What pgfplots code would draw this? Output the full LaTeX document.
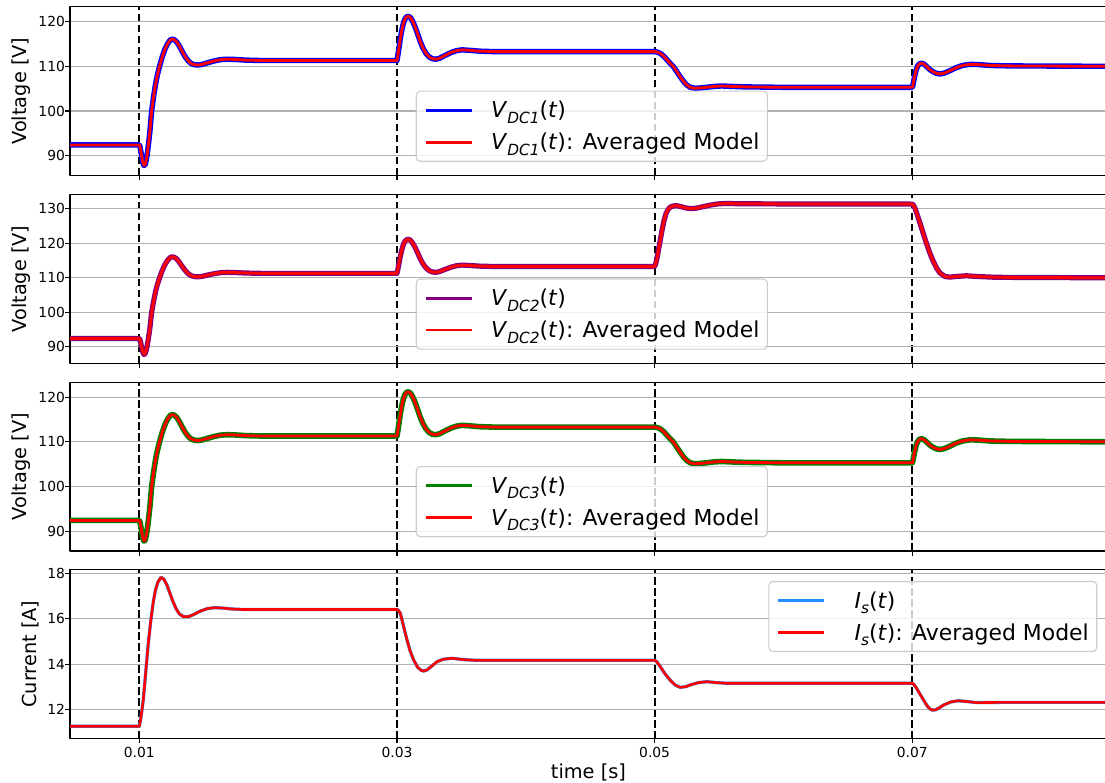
\documentclass[border=0pt]{standalone}
\usepackage{fontspec}
\setmainfont{DejaVu Sans}
\usepackage{pgfplots}
\usepackage{pgfplotstable}
\pgfplotsset{compat=1.18}

\definecolor{mblue}{RGB}{0,0,255}
\definecolor{mred}{RGB}{255,0,0}
\definecolor{mpurple}{RGB}{128,0,128}
\definecolor{mgreen}{RGB}{0,128,0}
\definecolor{mlblue}{RGB}{30,144,255}
\definecolor{mgrid}{RGB}{176,176,176}
\definecolor{mframe}{RGB}{204,204,204}

\newcommand{\sub}[1]{\raisebox{-5.5bp}{\fontsize{15.4}{16}\selectfont\itshape #1}}

% V_DC1 (also V_DC3): simulation and averaged model coincide
\pgfplotstableread{
t v
0.0046 92.4
0.0100 92.4
0.01005 92.1
0.01012 91.0
0.01020 89.6
0.01028 88.4
0.01036 87.8
0.01044 87.9
0.01052 88.7
0.01060 90.0
0.01070 92.2
0.01082 95.3
0.01096 100.0
0.01110 103.0
0.01125 105.8
0.01140 108.0
0.01160 110.3
0.01180 112.3
0.01200 113.9
0.01220 115.1
0.01240 115.9
0.01255 116.1
0.01270 116.0
0.01290 115.5
0.01310 114.6
0.01330 113.5
0.01355 112.2
0.01380 111.2
0.01405 110.6
0.01430 110.35
0.01458 110.3
0.01490 110.45
0.01530 110.8
0.01580 111.2
0.01630 111.5
0.01680 111.6
0.01740 111.55
0.01820 111.4
0.01950 111.3
0.03000 111.3
0.03006 112.3
0.03015 114.0
0.03025 116.0
0.03035 117.7
0.03047 119.3
0.03060 120.5
0.03075 121.1
0.03090 121.2
0.03105 120.9
0.03120 120.2
0.03140 118.9
0.03160 117.3
0.03180 115.6
0.03200 114.2
0.03225 112.9
0.03250 112.1
0.03275 111.7
0.03300 111.6
0.03330 111.8
0.03370 112.4
0.03420 113.1
0.03460 113.5
0.03504 113.7
0.03560 113.6
0.03640 113.4
0.03750 113.3
0.05000 113.3
0.05020 113.2
0.05044 112.9
0.05070 112.3
0.05095 111.5
0.05120 110.7
0.05147 109.9
0.05170 108.9
0.05195 107.8
0.05225 106.6
0.05250 105.8
0.05277 105.3
0.05310 105.1
0.05350 105.15
0.05400 105.3
0.05460 105.5
0.05520 105.6
0.05600 105.5
0.05700 105.4
0.06000 105.3
0.07000 105.3
0.07005 105.8
0.07012 106.9
0.07020 108.0
0.07030 109.2
0.07042 110.1
0.07057 110.6
0.07073 110.7
0.07090 110.5
0.07110 110.0
0.07135 109.3
0.07160 108.8
0.07190 108.4
0.07217 108.3
0.07250 108.5
0.07290 109.0
0.07340 109.7
0.07390 110.2
0.07448 110.45
0.07510 110.4
0.07600 110.2
0.07750 110.1
0.08560 110.0
}\vA

% V_DC2
\pgfplotstableread{
t v
0.0046 92.4
0.0100 92.4
0.01005 92.1
0.01012 91.0
0.01020 89.6
0.01028 88.4
0.01036 87.8
0.01044 87.9
0.01052 88.7
0.01060 90.0
0.01070 92.2
0.01082 95.3
0.01096 100.0
0.01110 103.0
0.01125 105.8
0.01140 108.0
0.01160 110.3
0.01180 112.3
0.01200 113.9
0.01220 115.1
0.01240 115.9
0.01255 116.1
0.01270 116.0
0.01290 115.5
0.01310 114.6
0.01330 113.5
0.01355 112.2
0.01380 111.2
0.01405 110.6
0.01430 110.35
0.01458 110.3
0.01490 110.45
0.01530 110.8
0.01580 111.2
0.01630 111.5
0.01680 111.6
0.01740 111.55
0.01820 111.4
0.01950 111.3
0.03000 111.3
0.03006 112.3
0.03015 114.0
0.03025 116.0
0.03035 117.7
0.03047 119.3
0.03060 120.5
0.03075 121.1
0.03090 121.2
0.03105 120.9
0.03120 120.2
0.03140 118.9
0.03160 117.3
0.03180 115.6
0.03200 114.2
0.03225 112.9
0.03250 112.1
0.03275 111.7
0.03300 111.6
0.03330 111.8
0.03370 112.4
0.03420 113.1
0.03460 113.5
0.03504 113.7
0.03560 113.6
0.03640 113.4
0.03750 113.3
0.05000 113.3
0.05008 114.0
0.05020 116.0
0.05032 118.6
0.05044 121.0
0.05058 123.9
0.05072 126.5
0.05088 128.6
0.05105 129.9
0.05125 130.6
0.05150 130.9
0.05170 130.95
0.05200 130.7
0.05240 130.3
0.05277 130.1
0.05320 130.2
0.05370 130.6
0.05430 131.1
0.05490 131.45
0.05560 131.6
0.05650 131.5
0.06000 131.45
0.07000 131.4
0.07008 131.1
0.07020 130.3
0.07034 128.8
0.07050 127.0
0.07068 124.9
0.07085 122.9
0.07110 120.0
0.07137 117.1
0.07160 115.0
0.07189 112.8
0.07215 111.4
0.07253 110.4
0.07290 110.2
0.07340 110.4
0.07420 110.6
0.07500 110.4
0.07650 110.15
0.08560 110.0
}\vB

% I_s
\pgfplotstableread{
t i
0.0046 11.27
0.0100 11.27
0.01010 11.55
0.01020 11.95
0.01031 12.43
0.01050 13.65
0.01070 14.92
0.01090 15.95
0.01109 16.75
0.01125 17.25
0.01145 17.62
0.01168 17.82
0.01190 17.75
0.01215 17.48
0.01238 17.12
0.01260 16.78
0.01285 16.45
0.01310 16.22
0.01340 16.10
0.01380 16.09
0.01420 16.18
0.01470 16.33
0.01530 16.45
0.01588 16.49
0.01650 16.47
0.01720 16.43
0.01800 16.41
0.03000 16.41
0.03010 16.38
0.03026 16.24
0.03050 15.70
0.03078 15.07
0.03100 14.62
0.03129 14.19
0.03160 13.87
0.03185 13.74
0.03207 13.70
0.03235 13.75
0.03270 13.92
0.03311 14.11
0.03360 14.22
0.03427 14.26
0.03520 14.20
0.03621 14.17
0.05000 14.17
0.05015 14.12
0.05044 13.89
0.05080 13.58
0.05122 13.29
0.05160 13.08
0.05199 12.98
0.05240 13.01
0.05277 13.09
0.05340 13.19
0.05406 13.23
0.05480 13.19
0.05561 13.16
0.07000 13.16
0.07015 13.09
0.07035 12.92
0.07060 12.68
0.07090 12.40
0.07115 12.17
0.07135 12.04
0.07155 11.98
0.07180 11.99
0.07210 12.08
0.07241 12.20
0.07300 12.34
0.07357 12.39
0.07420 12.36
0.07500 12.31
0.07700 12.32
0.08560 12.32
}\iS

\pgfplotsset{
  panel/.style={
    scale only axis, width=1041.7bp, height=168.8bp,
    xmin=0.004622, xmax=0.085476,
    xtick={0.01,0.03,0.05,0.07},
    xticklabels={},
    scaled x ticks=false,
    tick pos=left,
    tick align=outside,
    major tick length=4.9bp,
    every tick/.style={black, line width=1.1bp},
    axis line style={black, line width=1.1bp},
    xmajorgrids=true, ymajorgrids=true,
    x grid style={black, line width=1.8bp, dash pattern=on 7.7bp off 3.3bp},
    major x grid style={black, line width=1.8bp, dash pattern=on 7.7bp off 3.3bp},
    y grid style={mgrid, line width=1.1bp},
    /pgf/number format/assume math mode=true,
    ticklabel style={font=\fontsize{13.9}{16}\selectfont},
    yticklabel style={inner sep=0bp, anchor=east},
    xticklabel style={inner sep=0bp, anchor=north, yshift=-4bp},
    label style={font=\fontsize{19.4}{23}\selectfont},
    ylabel style={at={(axis description cs:-0.04656,0.5)}, anchor=center},
    legend cell align=left,
    legend image code/.code={\draw[##1] (0bp,0bp) -- (46bp,0bp);},
    legend style={at={(axis description cs:0.3319,0.503)}, anchor=north west,
      draw=mframe, line width=1.1bp, rounded corners=4bp, fill=white,
      fill opacity=0.8, text opacity=1,
      font=\fontsize{22}{26}\selectfont, inner xsep=8bp, inner ysep=10bp,
      nodes={inner sep=0bp}, column sep=18bp, row sep=13.8bp},
    line join=round,
  },
}

\begin{document}
\begin{tikzpicture}
\path[use as bounding box] (0,0) rectangle (1105bp,783bp);

% Panel 1
\begin{axis}[panel, at={(70bp,776.3bp)}, anchor=north west,
  ymin=85.55, ymax=123.36, ytick={90,100,110,120}, ylabel={Voltage [V]}]
\addplot[mblue, line width=5.4bp, no markers, forget plot] table[x=t,y=v] {\vA};
\addplot[mred, line width=2.8bp, no markers, forget plot] table[x=t,y=v] {\vA};
\addlegendimage{mblue, line width=2.8bp}
\addlegendentry{\textit{V}\sub{DC1}(\textit{t})}
\addlegendimage{mred, line width=2.8bp}
\addlegendentry{\textit{V}\sub{DC1}(\textit{t}): Averaged Model}
\end{axis}

% Panel 2
\begin{axis}[panel, at={(70bp,588.4bp)}, anchor=north west,
  ymin=85.17, ymax=134.16, ytick={90,100,110,120,130}, ylabel={Voltage [V]}]
\addplot[mpurple, line width=5.2bp, no markers, forget plot] table[x=t,y=v] {\vB};
\addplot[mred, line width=2.8bp, no markers, forget plot] table[x=t,y=v] {\vB};
\addlegendimage{mpurple, line width=2.8bp}
\addlegendentry{\textit{V}\sub{DC2}(\textit{t})}
\addlegendimage{mred, line width=2.8bp}
\addlegendentry{\textit{V}\sub{DC2}(\textit{t}): Averaged Model}
\end{axis}

% Panel 3
\begin{axis}[panel, at={(70bp,400.8bp)}, anchor=north west,
  ymin=85.55, ymax=123.36, ytick={90,100,110,120}, ylabel={Voltage [V]}]
\addplot[mgreen, line width=5.6bp, no markers, forget plot] table[x=t,y=v] {\vA};
\addplot[mred, line width=2.8bp, no markers, forget plot] table[x=t,y=v] {\vA};
\addlegendimage{mgreen, line width=2.8bp}
\addlegendentry{\textit{V}\sub{DC3}(\textit{t})}
\addlegendimage{mred, line width=2.8bp}
\addlegendentry{\textit{V}\sub{DC3}(\textit{t}): Averaged Model}
\end{axis}

% Panel 4
\begin{axis}[panel, at={(70bp,213.3bp)}, anchor=north west,
  ymin=10.73, ymax=18.16, ytick={12,14,16,18}, ylabel={Current [A]},
  ylabel style={at={(axis description cs:-0.0384,0.5)}, anchor=center},
  xticklabels={0.01,0.03,0.05,0.07},
  xlabel={time [s]},
  xlabel style={at={(axis description cs:0.4977,-0.2)}, anchor=center},
  legend style={at={(axis description cs:0.6703,0.9336)}, anchor=north west, column sep=29bp}]
\addplot[mlblue, line width=3.2bp, no markers, forget plot] table[x=t,y=i] {\iS};
\addplot[mred, line width=2.6bp, no markers, forget plot] table[x=t,y=i] {\iS};
\addlegendimage{mlblue, line width=2.8bp}
\addlegendentry{\textit{I}\sub{s}(\textit{t})}
\addlegendimage{mred, line width=2.8bp}
\addlegendentry{\textit{I}\sub{s}(\textit{t}): Averaged Model}
\end{axis}
\end{tikzpicture}
\end{document}
